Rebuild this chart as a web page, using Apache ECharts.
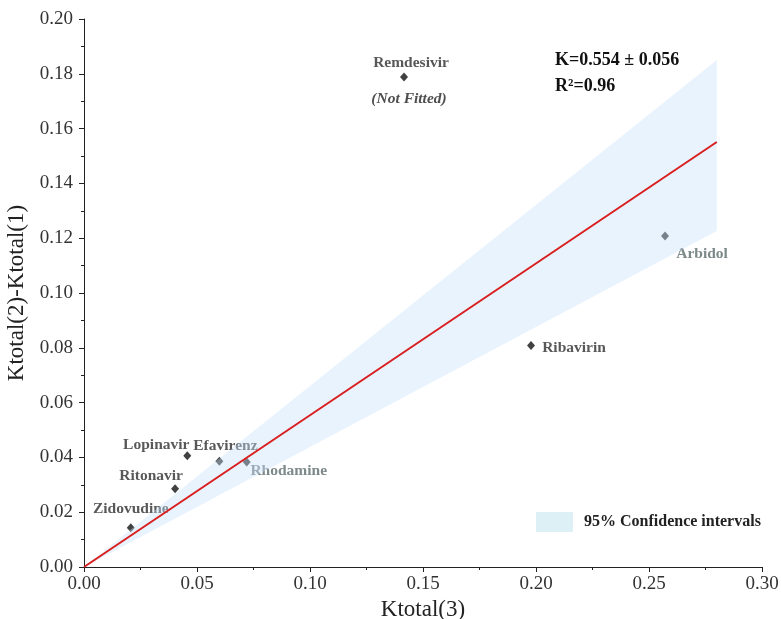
<!DOCTYPE html>
<html>
<head>
    <meta charset="utf-8">
    <title>Ktotal fit</title>
    <script src="https://cdn.jsdelivr.net/npm/echarts@6.0.0/dist/echarts.min.js"></script>
    <style>
        html, body { margin: 0; padding: 0; background: #fff; }
        #main { width: 781px; height: 619px; }
    </style>
</head>
<body>
    <div id="main"></div>
    <script>
        // 药物名称与数值
        const drugNames = ['Remdesivir', 'Arbidol', 'Ribavirin', 'Lopinavir', 'Efavirenz', 'Rhodamine', 'Ritonavir', 'Zidovudine'];
        const ktotal3 = [0.1416, 0.2571, 0.1978, 0.0457, 0.0599, 0.0720, 0.0403, 0.0207];
        const ktotalDiff = [0.1788, 0.1208, 0.0808, 0.0406, 0.0386, 0.0383, 0.0286, 0.0143];

        // 拟合直线与95%置信区间
        const fitX = [0, 0.28];
        const fitY = [0, 0.1551];
        const bandX = [0, 0.28];
        const bandUpper = [0, 0.1850];
        const bandLower = [0, 0.1226];

        // 坐标轴刻度
        const xTicks = [0, 0.05, 0.10, 0.15, 0.20, 0.25, 0.30];
        const yTicks = [0, 0.02, 0.04, 0.06, 0.08, 0.10, 0.12, 0.14, 0.16, 0.18, 0.20];

        const FONT = '"Times New Roman", "Liberation Serif", serif';

        // 标签相对点的偏移（文字中心）
        const labelOffset = {
            Remdesivir: [7, -14],
            Arbidol: [37, 18],
            Ribavirin: [43, 2],
            Lopinavir: [-31, -11],
            Efavirenz: [6, -15],
            Rhodamine: [42, 9],
            Ritonavir: [-24, -13],
            Zidovudine: [0, -19]
        };
        const grayLabels = ['Arbidol', 'Rhodamine'];

        const scatterData = drugNames.map((name, i) => ({
            name: name,
            value: [ktotal3[i], ktotalDiff[i]],
            label: {
                offset: labelOffset[name],
                color: grayLabels.indexOf(name) >= 0 ? '#5d6b6b' : '#2e2e2e'
            }
        }));

        const notFittedIdx = drugNames.indexOf('Remdesivir');

        const chart = echarts.init(document.getElementById('main'));

        const option = {
            animation: false,
            textStyle: { fontFamily: FONT },
            grid: { left: 84, right: 19, top: 19, bottom: 52, containLabel: false, outerBoundsMode: 'none' },
            legend: {
                left: 536,
                top: 512,
                padding: 0,
                itemWidth: 37,
                itemHeight: 20,
                data: [{ name: '95% Confidence intervals', icon: 'rect', itemStyle: { color: '#ddf0f6' } }],
                textStyle: { fontFamily: FONT, fontSize: 16, fontWeight: 'bold', color: '#222', padding: [0, 0, 0, 6] }
            },
            xAxis: {
                type: 'value',
                min: xTicks[0],
                max: xTicks[xTicks.length - 1],
                interval: 0.05,
                name: 'Ktotal(3)',
                nameLocation: 'middle',
                nameGap: 25,
                nameTextStyle: { fontFamily: FONT, fontSize: 23, color: '#222' },
                axisLine: { onZero: false, lineStyle: { color: '#222', width: 1 } },
                axisTick: { show: true, length: 5, lineStyle: { color: '#222' } },
                minorTick: { show: true, splitNumber: 2, length: 3, lineStyle: { color: '#222' } },
                axisLabel: {
                    fontFamily: FONT, fontSize: 19, color: '#333', margin: 8,
                    formatter: v => v.toFixed(2)
                },
                splitLine: { show: false }
            },
            yAxis: {
                type: 'value',
                min: yTicks[0],
                max: yTicks[yTicks.length - 1],
                interval: 0.02,
                name: 'Ktotal(2)-Ktotal(1)',
                nameLocation: 'middle',
                nameGap: 53,
                nameTextStyle: { fontFamily: FONT, fontSize: 23, color: '#222' },
                axisLine: { show: true, onZero: false, lineStyle: { color: '#222', width: 1 } },
                axisTick: { show: true, length: 5, lineStyle: { color: '#222' } },
                minorTick: { show: true, splitNumber: 2, length: 3, lineStyle: { color: '#222' } },
                axisLabel: {
                    fontFamily: FONT, fontSize: 19, color: '#333', margin: 11,
                    formatter: v => v.toFixed(2)
                },
                splitLine: { show: false }
            },
            graphic: [
                {
                    type: 'text', left: 555, top: 51, z: 100,
                    style: { text: 'K=0.554 ± 0.056', font: 'bold 18px ' + FONT, fill: '#111' }
                },
                {
                    type: 'text', left: 555, top: 77, z: 100,
                    style: { text: 'R²=0.96', font: 'bold 18px ' + FONT, fill: '#111' }
                }
            ],
            series: [
                {
                    name: 'points',
                    type: 'scatter',
                    z: 2,
                    symbol: 'diamond',
                    symbolSize: [8, 9],
                    itemStyle: { color: '#111' },
                    label: {
                        show: true,
                        position: 'inside',
                        align: 'center',
                        verticalAlign: 'middle',
                        formatter: p => p.name,
                        fontFamily: FONT,
                        fontSize: 15.5,
                        fontWeight: 'bold'
                    },
                    emphasis: { disabled: true },
                    data: scatterData
                },
                {
                    name: 'notFitted',
                    type: 'scatter',
                    z: 2,
                    symbolSize: 0,
                    label: {
                        show: true,
                        position: 'inside',
                        align: 'center',
                        verticalAlign: 'middle',
                        offset: [5, 22],
                        formatter: '(Not Fitted)',
                        fontFamily: FONT,
                        fontSize: 15.5,
                        fontWeight: 'bold',
                        fontStyle: 'italic',
                        color: '#222'
                    },
                    emphasis: { disabled: true },
                    data: [[ktotal3[notFittedIdx], ktotalDiff[notFittedIdx]]]
                },
                {
                    name: '95% Confidence intervals',
                    type: 'custom',
                    z: 3,
                    silent: true,
                    encode: { x: 0, y: [1, 2] },
                    data: bandX.map((x, i) => [x, bandUpper[i], bandLower[i]]),
                    renderItem: function (params, api) {
                        const i = params.dataIndex;
                        if (i >= bandX.length - 1) return null;
                        const pts = [
                            api.coord([bandX[i], bandLower[i]]),
                            api.coord([bandX[i], bandUpper[i]]),
                            api.coord([bandX[i + 1], bandUpper[i + 1]]),
                            api.coord([bandX[i + 1], bandLower[i + 1]])
                        ];
                        return {
                            type: 'polygon',
                            shape: { points: pts },
                            style: { fill: 'rgba(200,225,250,0.4)' }
                        };
                    }
                },
                {
                    name: 'fit',
                    type: 'line',
                    z: 4,
                    symbol: 'none',
                    silent: true,
                    lineStyle: { color: '#d81e1e', width: 2 },
                    data: fitX.map((x, i) => [x, fitY[i]])
                }
            ]
        };

        chart.setOption(option);
    </script>
</body>
</html>
